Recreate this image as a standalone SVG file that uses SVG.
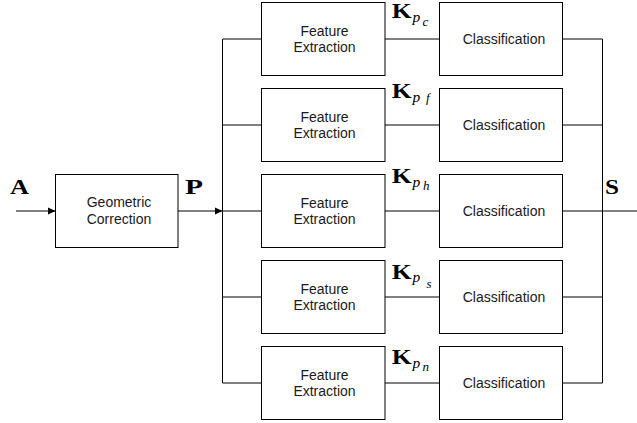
<svg xmlns="http://www.w3.org/2000/svg" width="637" height="423" viewBox="0 0 637 423">
<defs>
<marker id="arr" markerUnits="userSpaceOnUse" markerWidth="8" markerHeight="8" refX="8" refY="3.7" orient="auto">
<path d="M0,0 L8,3.7 L0,7.4 z" fill="#000"/>
</marker>
<style>
.box{fill:#fff;stroke:#000;stroke-width:1}
.lbl{font-family:"Liberation Sans",Arial,sans-serif;font-size:14px;fill:#1a1a1a;text-anchor:middle}
.bold{font-family:"Liberation Serif","Times New Roman",serif;font-weight:bold;font-size:21px;fill:#000}
.it{font-family:"Liberation Serif","Times New Roman",serif;font-style:italic;font-size:15.5px;fill:#000}
.it2{font-family:"Liberation Serif","Times New Roman",serif;font-style:italic;font-size:13px;fill:#000}
.ln{fill:none;stroke:#000;stroke-width:1}
</style>
</defs>
<rect width="637" height="423" fill="#fff"/>
<g id="connectors" class="ln">
<path d="M16,211 H55.5" marker-end="url(#arr)"/>
<path d="M178,211 H222.5" marker-end="url(#arr)"/>
<path d="M222.5,39 V383"/>
<path d="M222.5,39 H261.5 M222.5,125 H261.5 M222.5,211 H261.5 M222.5,297 H261.5 M222.5,383 H261.5"/>
<path d="M385,39 H439.5 M385,125 H439.5 M385,211 H439.5 M385,297 H439.5 M385,383 H439.5"/>
<path d="M562.5,39 H602.5 M562.5,125 H602.5 M562.5,211 H602.5 M562.5,297 H602.5 M562.5,383 H602.5"/>
<path d="M602.5,39 V383"/>
<path d="M602.5,211 H645" marker-end="url(#arr)"/>
</g>
<g id="geometric-correction">
<rect class="box" x="55.5" y="174.5" width="122.5" height="73"/>
<text class="lbl" x="119" y="206.7">Geometric</text>
<text class="lbl" x="119" y="224">Correction</text>
</g>
<g id="fe1"><rect class="box" x="261.5" y="2.5" width="123.5" height="73"/><text class="lbl" x="324.5" y="35.5">Feature</text><text class="lbl" x="324.5" y="52">Extraction</text></g>
<g id="fe2"><rect class="box" x="261.5" y="88.5" width="123.5" height="73"/><text class="lbl" x="324.5" y="121.5">Feature</text><text class="lbl" x="324.5" y="138">Extraction</text></g>
<g id="fe3"><rect class="box" x="261.5" y="174.5" width="123.5" height="73"/><text class="lbl" x="324.5" y="207.5">Feature</text><text class="lbl" x="324.5" y="224">Extraction</text></g>
<g id="fe4"><rect class="box" x="261.5" y="260.5" width="123.5" height="73"/><text class="lbl" x="324.5" y="293.5">Feature</text><text class="lbl" x="324.5" y="310">Extraction</text></g>
<g id="fe5"><rect class="box" x="261.5" y="346.5" width="123.5" height="73"/><text class="lbl" x="324.5" y="379.5">Feature</text><text class="lbl" x="324.5" y="396">Extraction</text></g>
<g id="cls1"><rect class="box" x="439.5" y="2.5" width="123" height="73"/><text class="lbl" x="504" y="43.5">Classification</text></g>
<g id="cls2"><rect class="box" x="439.5" y="88.5" width="123" height="73"/><text class="lbl" x="504" y="129.5">Classification</text></g>
<g id="cls3"><rect class="box" x="439.5" y="174.5" width="123" height="73"/><text class="lbl" x="504" y="215.5">Classification</text></g>
<g id="cls4"><rect class="box" x="439.5" y="260.5" width="123" height="73"/><text class="lbl" x="504" y="301.5">Classification</text></g>
<g id="cls5"><rect class="box" x="439.5" y="346.5" width="123" height="73"/><text class="lbl" x="504" y="387.5">Classification</text></g>
<g id="labels">
<text class="bold" x="10" y="194.3" textLength="19" lengthAdjust="spacingAndGlyphs">A</text>
<text class="bold" x="185" y="194.3" textLength="18" lengthAdjust="spacingAndGlyphs">P</text>
<text class="bold" x="605" y="194.3" textLength="14" lengthAdjust="spacingAndGlyphs">S</text>
<text class="bold" x="391.7" y="18.3" textLength="20" lengthAdjust="spacingAndGlyphs">K</text>
<text class="it" x="412.5" y="21.7">p</text><text class="it2" x="422.5" y="25.7">c</text>
<text class="bold" x="391.7" y="98.3" textLength="20" lengthAdjust="spacingAndGlyphs">K</text>
<text class="it" x="412.5" y="101.5">p</text><text class="it2" x="426" y="101.5">f</text>
<text class="bold" x="391.7" y="183.3" textLength="20" lengthAdjust="spacingAndGlyphs">K</text>
<text class="it" x="412.5" y="186.7">p</text><text class="it2" x="423" y="190">h</text>
<text class="bold" x="391.7" y="279" textLength="20" lengthAdjust="spacingAndGlyphs">K</text>
<text class="it" x="412.5" y="282.3">p</text><text class="it2" x="426.5" y="288.3">s</text>
<text class="bold" x="391.7" y="364" textLength="20" lengthAdjust="spacingAndGlyphs">K</text>
<text class="it" x="412.5" y="367.5">p</text><text class="it2" x="422.5" y="371">n</text>
</g>
</svg>
